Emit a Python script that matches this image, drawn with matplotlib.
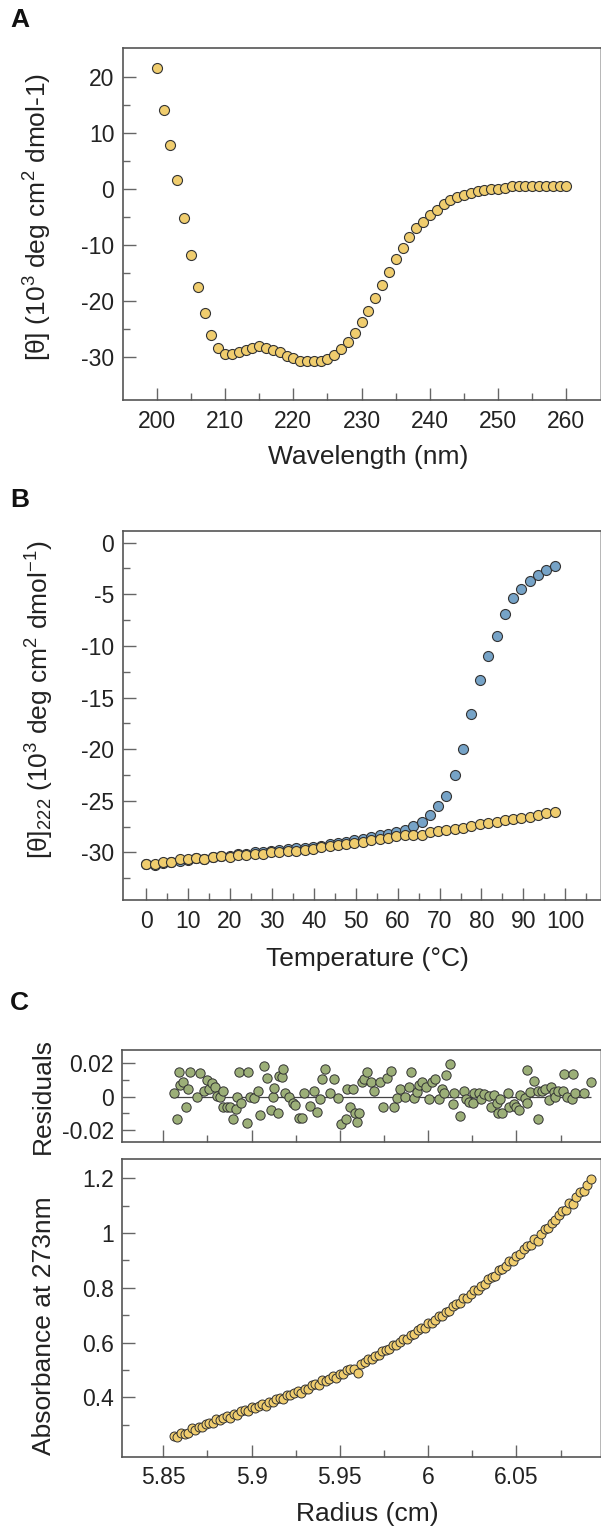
import numpy as np
import matplotlib
matplotlib.use('Agg')
import matplotlib.pyplot as plt
from matplotlib.ticker import FixedLocator, FuncFormatter

plt.rcParams['font.family'] = ['Liberation Sans', 'DejaVu Sans']
plt.rcParams['mathtext.fontset'] = 'custom'
plt.rcParams['mathtext.rm'] = 'Liberation Sans'
plt.rcParams['mathtext.it'] = 'Liberation Sans:italic'
plt.rcParams['mathtext.bf'] = 'Liberation Sans:bold'
plt.rcParams['axes.unicode_minus'] = False

# ---- Panel A: CD spectrum ----
wavelength = [200, 201, 202, 203, 204, 205, 206, 207, 208, 209,
              210, 211, 212, 213, 214, 215, 216, 217, 218, 219,
              220, 221, 222, 223, 224, 225, 226, 227, 228, 229,
              230, 231, 232, 233, 234, 235, 236, 237, 238, 239,
              240, 241, 242, 243, 244, 245, 246, 247, 248, 249,
              250, 251, 252, 253, 254, 255, 256, 257, 258, 259, 260]
ellipticity = [21.6, 14.1, 7.9, 1.6, -5.2, -11.7, -17.4, -22.1, -26.0, -28.4,
               -29.4, -29.4, -29.0, -28.6, -28.4, -27.9, -28.4, -28.6, -29.1, -29.8,
               -30.2, -30.6, -30.7, -30.7, -30.7, -30.3, -29.5, -28.5, -27.2, -25.7,
               -23.7, -21.8, -19.4, -17.1, -14.7, -12.4, -10.5, -8.6, -7.0, -5.8,
               -4.6, -3.7, -2.7, -1.9, -1.5, -1.1, -0.7, -0.3, -0.1, 0.0,
               0.0, 0.2, 0.5, 0.5, 0.5, 0.5, 0.5, 0.5, 0.5, 0.5, 0.5]

# ---- Panel B: thermal melt at 222 nm ----
temperature = [0, 2, 4, 6, 8, 10, 11.9, 13.9, 15.9, 17.9,
               19.9, 21.9, 23.9, 25.9, 27.9, 29.8, 31.8, 33.8, 35.8, 37.8,
               39.8, 41.8, 43.8, 45.8, 47.7, 49.7, 51.7, 53.7, 55.7, 57.7,
               59.7, 61.7, 63.7, 65.7, 67.7, 69.6, 71.6, 73.6, 75.6, 77.6,
               79.6, 81.6, 83.6, 85.6, 87.5, 89.5, 91.5, 93.5, 95.5, 97.5]
theta_blue = [-31.1, -31.2, -31.0, -30.95, -30.8, -30.7, -30.5, -30.6, -30.4, -30.3,
              -30.3, -30.1, -30.1, -29.95, -29.95, -29.85, -29.75, -29.7, -29.6, -29.6,
              -29.5, -29.35, -29.2, -29.1, -28.95, -28.75, -28.65, -28.5, -28.3, -28.2,
              -28.05, -27.8, -27.45, -27.0, -26.4, -25.5, -24.5, -22.5, -20.0, -16.6,
              -13.3, -10.95, -9.0, -6.95, -5.4, -4.45, -3.7, -3.1, -2.6, -2.25]
theta_yellow = [-31.1, -31.1, -30.9, -30.9, -30.65, -30.6, -30.5, -30.65, -30.4, -30.35,
                -30.4, -30.2, -30.2, -30.1, -30.1, -30.0, -29.95, -29.85, -29.85, -29.78,
                -29.7, -29.5, -29.4, -29.3, -29.2, -29.07, -28.97, -28.8, -28.65, -28.55,
                -28.4, -28.3, -28.26, -28.26, -28.06, -27.9, -27.78, -27.7, -27.6, -27.45,
                -27.2, -27.1, -27.0, -26.9, -26.8, -26.7, -26.6, -26.4, -26.2, -26.07]

# ---- Panel C: sedimentation equilibrium ----
radius = [5.856, 5.858, 5.860, 5.862, 5.864, 5.866, 5.868, 5.870, 5.872, 5.874,
          5.876, 5.878, 5.880, 5.882, 5.884, 5.886, 5.888, 5.890, 5.892, 5.894,
          5.896, 5.898, 5.900, 5.902, 5.904, 5.906, 5.908, 5.910, 5.912, 5.914,
          5.916, 5.918, 5.920, 5.922, 5.924, 5.926, 5.928, 5.930, 5.932, 5.934,
          5.936, 5.938, 5.940, 5.942, 5.944, 5.946, 5.948, 5.950, 5.952, 5.954,
          5.956, 5.958, 5.960, 5.962, 5.964, 5.966, 5.968, 5.970, 5.972, 5.974,
          5.976, 5.978, 5.980, 5.982, 5.984, 5.986, 5.988, 5.990, 5.992, 5.994,
          5.996, 5.998, 6.000, 6.002, 6.004, 6.006, 6.008, 6.010, 6.012, 6.014,
          6.016, 6.018, 6.020, 6.022, 6.024, 6.026, 6.028, 6.030, 6.032, 6.034,
          6.036, 6.038, 6.040, 6.042, 6.044, 6.046, 6.048, 6.050, 6.052, 6.054,
          6.056, 6.058, 6.060, 6.062, 6.064, 6.066, 6.068, 6.070, 6.072, 6.074,
          6.076, 6.078, 6.080, 6.082, 6.084, 6.086, 6.088, 6.090, 6.092]
absorbance = [0.259, 0.256, 0.269, 0.265, 0.271, 0.287, 0.281, 0.292, 0.291, 0.303,
              0.305, 0.306, 0.320, 0.317, 0.323, 0.331, 0.326, 0.338, 0.337, 0.350,
              0.352, 0.350, 0.364, 0.361, 0.368, 0.377, 0.369, 0.381, 0.381, 0.394,
              0.397, 0.395, 0.410, 0.407, 0.415, 0.424, 0.417, 0.429, 0.430, 0.444,
              0.447, 0.446, 0.462, 0.460, 0.468, 0.478, 0.471, 0.485, 0.486, 0.500,
              0.505, 0.504, 0.490, 0.520, 0.529, 0.540, 0.538, 0.552, 0.554, 0.569,
              0.574, 0.575, 0.592, 0.592, 0.602, 0.613, 0.612, 0.627, 0.630, 0.646,
              0.653, 0.654, 0.672, 0.673, 0.684, 0.696, 0.696, 0.712, 0.716, 0.734,
              0.741, 0.743, 0.763, 0.764, 0.776, 0.790, 0.791, 0.808, 0.813, 0.832,
              0.840, 0.844, 0.865, 0.867, 0.880, 0.896, 0.898, 0.916, 0.923, 0.942,
              0.952, 0.957, 0.979, 0.971, 0.998, 1.015, 1.018, 1.038, 1.046, 1.067,
              1.079, 1.085, 1.109, 1.104, 1.130, 1.149, 1.154, 1.175, 1.198]

res_radius = [5.8561, 5.8576, 5.8589, 5.8595, 5.8610, 5.8629, 5.8642, 5.8651, 5.8689, 5.8708,
              5.8731, 5.8746, 5.8761, 5.8776, 5.8793, 5.8806, 5.8821, 5.8840, 5.8840, 5.8859,
              5.8878, 5.8897, 5.8912, 5.8916, 5.8931, 5.8939, 5.8973, 5.8982, 5.8992, 5.9014,
              5.9035, 5.9048, 5.9073, 5.9086, 5.9109, 5.9124, 5.9128, 5.9147, 5.9158, 5.9171,
              5.9177, 5.9190, 5.9209, 5.9234, 5.9247, 5.9270, 5.9284, 5.9294, 5.9332, 5.9351,
              5.9370, 5.9388, 5.9398, 5.9417, 5.9445, 5.9464, 5.9492, 5.9506, 5.9536, 5.9540,
              5.9559, 5.9577, 5.9587, 5.9596, 5.9606, 5.9625, 5.9638, 5.9653, 5.9676, 5.9695,
              5.9729, 5.9744, 5.9766, 5.9791, 5.9804, 5.9823, 5.9842, 5.9870, 5.9889, 5.9904,
              5.9918, 5.9937, 5.9946, 5.9965, 5.9989, 6.0003, 6.0022, 6.0040, 6.0059, 6.0078,
              6.0088, 6.0101, 6.0126, 6.0141, 6.0148, 6.0178, 6.0201, 6.0214, 6.0229, 6.0252,
              6.0258, 6.0286, 6.0299, 6.0318, 6.0343, 6.0356, 6.0375, 6.0390, 6.0394, 6.0409,
              6.0418, 6.0451, 6.0460, 6.0485, 6.0500, 6.0513, 6.0522, 6.0551, 6.0560, 6.0560,
              6.0579, 6.0598, 6.0621, 6.0621, 6.0645, 6.0664, 6.0683, 6.0696, 6.0711, 6.0721,
              6.0734, 6.0764, 6.0772, 6.0787, 6.0815, 6.0821, 6.0829, 6.0882, 6.0923]
residuals = [0.002, -0.0136, 0.015, 0.0068, 0.0088, -0.006, 0.0044, 0.015, 0.0, 0.0144,
             0.0034, 0.01, 0.0044, 0.008, 0.0056, 0.0004, 0.0, 0.0034, -0.006, -0.006,
             -0.006, -0.0136, -0.0076, 0.0, 0.015, -0.0036, -0.0156, 0.015, 0.0, -0.0006,
             0.0034, -0.0112, 0.0184, 0.011, -0.008, 0.0, 0.005, -0.0096, 0.0124, 0.012,
             0.0164, 0.0024, 0.0, -0.0036, -0.005, -0.0126, -0.0126, 0.0024, -0.0056, 0.0034,
             -0.0092, -0.0016, 0.0104, 0.0168, 0.002, 0.0104, -0.0006, -0.0162, -0.0136, 0.0044,
             -0.006, 0.0044, -0.01, -0.0152, -0.0096, 0.009, 0.0104, 0.015, 0.0088, 0.0034,
             0.0088, -0.006, 0.0114, 0.0154, -0.006, -0.0006, 0.0048, 0.0, 0.006, 0.015,
             -0.0006, 0.0028, 0.0068, 0.0088, 0.006, -0.0016, 0.0088, 0.0104, -0.0012, 0.0048,
             0.002, 0.0128, 0.0194, -0.0046, 0.002, -0.0116, 0.0034, -0.0016, -0.0032, -0.0036,
             0.0024, 0.0024, -0.0012, 0.0014, 0.0004, -0.006, 0.0008, -0.004, -0.01, -0.0012,
             -0.01, 0.002, -0.006, -0.0046, -0.006, -0.008, 0.0008, -0.0006, 0.016, -0.0036,
             0.0028, 0.0094, -0.0136, 0.0034, 0.0034, 0.0048, -0.002, 0.006, 0.0028, 0.0,
             0.0034, 0.0034, 0.0134, 0.0, -0.0016, 0.0134, 0.002, 0.002, 0.0088]

YELLOW = '#F0CD6E'
BLUE = '#76A3C7'
GREEN = '#9CAF78'
EDGE = '#333333'
SPINE = '#555555'
TEXT = '#222222'

fig = plt.figure(figsize=(6.01, 15.32), dpi=100)
W, H = 601.0, 1532.0


def make_axes(left, right, top, bottom):
    return fig.add_axes([left / W, 1 - bottom / H, (right - left) / W, (bottom - top) / H])


def style(ax):
    for s in ax.spines.values():
        s.set_color(SPINE)
        s.set_linewidth(1.2)
    ax.spines['right'].set_color('#aaaaaa')
    ax.tick_params(which='both', direction='in', color='#666666', width=1.0,
                   top=False, right=False, labelcolor=TEXT, labelsize=16.5)
    ax.tick_params(which='major', length=9)
    ax.tick_params(which='minor', length=5)
    ax.tick_params(axis='x', pad=7)
    ax.tick_params(axis='y', pad=6)


fmt = FuncFormatter(lambda v, p: '%g' % v)

# Panel A
axA = make_axes(122.7, 600.5, 47.7, 400)
axA.scatter(wavelength, ellipticity, s=52, c=YELLOW, edgecolors=EDGE, linewidths=0.8, zorder=3)
axA.set_xlim(195, 265)
axA.set_ylim(-37.6, 25.2)
axA.xaxis.set_major_locator(FixedLocator([200, 210, 220, 230, 240, 250, 260]))
axA.xaxis.set_minor_locator(FixedLocator([205, 215, 225, 235, 245, 255]))
axA.yaxis.set_major_locator(FixedLocator([-30, -20, -10, 0, 10, 20]))
axA.yaxis.set_minor_locator(FixedLocator([-25, -15, -5, 5, 15]))
axA.yaxis.set_major_formatter(fmt)
style(axA)
axA.set_xlabel('Wavelength (nm)', fontsize=19, color=TEXT)
axA.xaxis.set_label_coords(0.513, -0.128)
axA.set_ylabel(r'[θ] (10$^3$ deg cm$^2$ dmol-1)', fontsize=19, color=TEXT)
axA.yaxis.set_label_coords(-0.144, 0.52)

# Panel B
axB = make_axes(122.7, 600.5, 531, 900)
axB.scatter(temperature, theta_blue, s=52, c=BLUE, edgecolors=EDGE, linewidths=0.8, zorder=3)
axB.scatter(temperature, theta_yellow, s=52, c=YELLOW, edgecolors=EDGE, linewidths=0.8, zorder=4)
axB.set_xlim(-5.6, 108.4)
axB.set_ylim(-34.6, 1.13)
axB.xaxis.set_major_locator(FixedLocator(list(range(0, 101, 10))))
axB.xaxis.set_minor_locator(FixedLocator(list(range(5, 106, 10))))
axB.yaxis.set_major_locator(FixedLocator([-30, -25, -20, -15, -10, -5, 0]))
axB.yaxis.set_minor_locator(FixedLocator([-32.5, -27.5, -22.5, -17.5, -12.5, -7.5, -2.5]))
axB.yaxis.set_major_formatter(fmt)
style(axB)
axB.set_xlabel('Temperature (°C)', fontsize=19, color=TEXT)
axB.xaxis.set_label_coords(0.5125, -0.127)
axB.set_ylabel(r'[θ]$_{222}$ (10$^3$ deg cm$^2$ dmol$^{-1}$)', fontsize=19, color=TEXT)
axB.yaxis.set_label_coords(-0.14, 0.542)

# Panel C residuals
axR = make_axes(122, 600.5, 1050, 1141.7)
axR.hlines(0, min(res_radius) - 0.0015, max(res_radius), color='#444444', lw=0.9, zorder=2)
axR.scatter(res_radius, residuals, s=45, c=GREEN, edgecolors=EDGE, linewidths=0.7, zorder=3)
axR.set_xlim(5.8266, 6.0976)
axR.set_ylim(-0.027, 0.028)
axR.xaxis.set_major_locator(FixedLocator([5.85, 5.9, 5.95, 6.0, 6.05]))
axR.xaxis.set_minor_locator(FixedLocator([5.875, 5.925, 5.975, 6.025, 6.075]))
axR.yaxis.set_major_locator(FixedLocator([-0.02, 0, 0.02]))
axR.yaxis.set_minor_locator(FixedLocator([-0.01, 0.01]))
axR.yaxis.set_major_formatter(fmt)
style(axR)
axR.tick_params(axis='x', labelbottom=False)
axR.set_ylabel('Residuals', fontsize=19, color=TEXT)
axR.yaxis.set_label_coords(-0.14, 0.5)

# Panel C absorbance
axC = make_axes(122, 600.5, 1159.3, 1456.7)
axC.scatter(radius, absorbance, s=42, c=YELLOW, edgecolors=EDGE, linewidths=0.7, zorder=3)
axC.set_xlim(5.8266, 6.0976)
axC.set_ylim(0.183, 1.269)
axC.xaxis.set_major_locator(FixedLocator([5.85, 5.9, 5.95, 6.0, 6.05]))
axC.xaxis.set_minor_locator(FixedLocator([5.875, 5.925, 5.975, 6.025, 6.075]))
axC.yaxis.set_major_locator(FixedLocator([0.4, 0.6, 0.8, 1.0, 1.2]))
axC.yaxis.set_minor_locator(FixedLocator([0.3, 0.5, 0.7, 0.9, 1.1]))
axC.xaxis.set_major_formatter(fmt)
axC.yaxis.set_major_formatter(fmt)
style(axC)
axC.set_xlabel('Radius (cm)', fontsize=19, color=TEXT)
axC.xaxis.set_label_coords(0.513, -0.152)
axC.set_ylabel('Absorbance at 273nm', fontsize=19, color=TEXT)
axC.yaxis.set_label_coords(-0.137, 0.44)

# panel letters
for letter, top in [('A', 8), ('B', 488), ('C', 991)]:
    fig.text(10 / W, 1 - top / H, letter, fontsize=19, fontweight='bold',
             color='#111111', ha='left', va='top')

fig.savefig('out.png', dpi=100)
